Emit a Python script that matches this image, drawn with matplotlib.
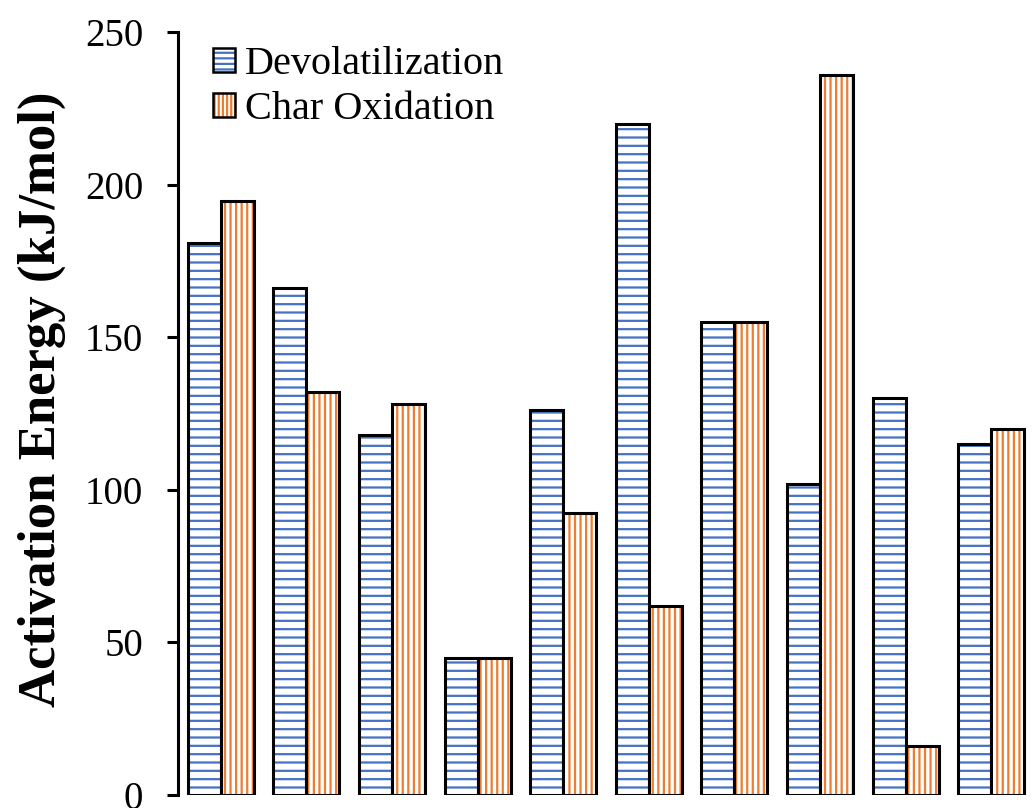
import matplotlib
matplotlib.use("Agg")
import matplotlib.pyplot as plt
from matplotlib.patches import Patch
from matplotlib.legend_handler import HandlerTuple
import numpy as np

groups = list(range(1, 11))
devolatilization = [181, 166, 118, 45, 126, 220, 155, 102, 130, 115]
char_oxidation = [194.5, 132, 128, 45, 92.5, 62, 155, 236, 16, 120]
series_labels = ["Devolatilization", "Char Oxidation"]
yticks = [0, 50, 100, 150, 200, 250]

blue = "#4472C4"
orange = "#ED7D31"

plt.rcParams["font.family"] = ["Liberation Serif", "DejaVu Serif"]
plt.rcParams["hatch.linewidth"] = 1.6

W, H = 1035, 808
fig = plt.figure(figsize=(W / 100, H / 100), dpi=100)
ax = fig.add_axes([178 / W, (H - 795) / H, (1034 - 178) / W, (795 - 32) / H])

x = np.arange(len(groups))
bw = 0.386
for vals, off, col, hatch in [(devolatilization, -bw / 2, blue, "--"),
                              (char_oxidation, bw / 2, orange, "|||")]:
    ax.bar(x + off, vals, bw, facecolor="white", edgecolor=col, hatch=hatch, linewidth=0)
    ax.bar(x + off, vals, bw, facecolor="none", edgecolor="black", linewidth=2.2)

ax.set_xlim(-0.5, 9.5)
ax.set_ylim(0, 250)
ax.set_yticks(yticks)
ax.set_xticks([])
for s in ["top", "right", "bottom"]:
    ax.spines[s].set_visible(False)
ax.spines["left"].set_linewidth(2.2)
ax.tick_params(axis="y", direction="out", length=8, width=2.2, labelsize=28, pad=17)
fig.text(42 / W, 1 - 399 / H, "Activation Energy (kJ/mol)", rotation=90,
         ha="center", va="center", fontsize=38, fontweight="bold")

handles = []
for col, hatch in [(blue, "---"), (orange, "||||")]:
    h1 = Patch(facecolor="white", edgecolor=col, hatch=hatch, linewidth=0)
    h2 = Patch(facecolor="none", edgecolor="black", linewidth=1.8)
    handles.append((h1, h2))
ax.legend(handles, series_labels, handler_map={tuple: HandlerTuple(ndivide=1)},
          loc="upper left", bbox_to_anchor=(205 / W, (H - 38) / H),
          bbox_transform=fig.transFigure, frameon=False, fontsize=29,
          handlelength=0.55, handleheight=0.55, handletextpad=0.25,
          labelspacing=0.2, borderaxespad=0, borderpad=0.2)

fig.savefig("out.png", dpi=100)
